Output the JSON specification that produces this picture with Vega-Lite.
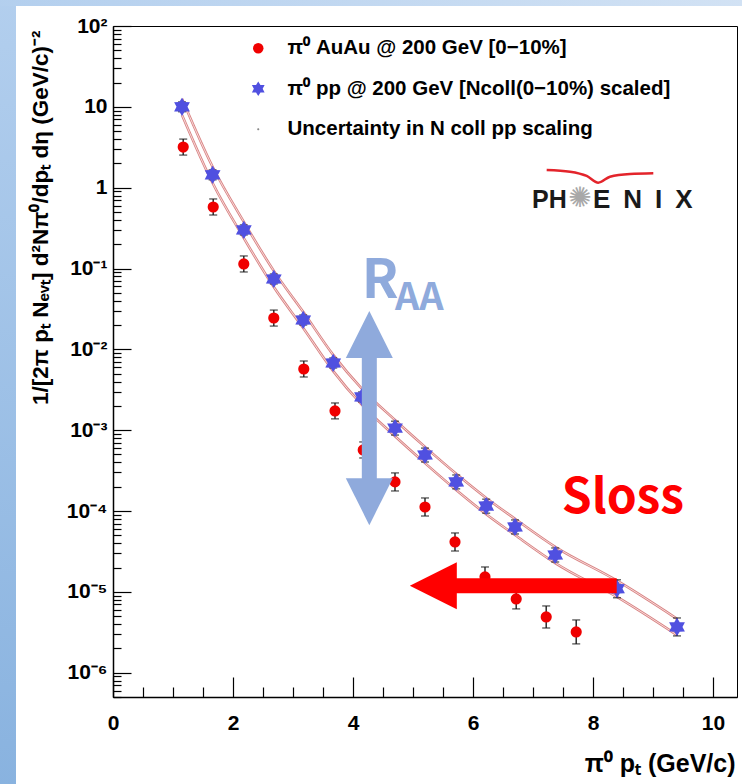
{
  "$schema": "https://vega.github.io/schema/vega-lite/v6.json",
  "width": 624,
  "height": 671,
  "autosize": {"type": "none"},
  "padding": {"left": 113, "top": 26, "right": 5, "bottom": 87},
  "background": "white",
  "config": {"view": {"stroke": "black", "strokeWidth": 1}, "font": "Liberation Sans"},
  "resolve": {"axis": {"x": "independent", "y": "independent"}},
  "datasets": {
    "spectra": [
      {"series": "π⁰ AuAu @ 200 GeV [0−10%]", "pT": 1.17, "value": 3.18, "lo": 2.53, "hi": 3.99},
      {"series": "π⁰ AuAu @ 200 GeV [0−10%]", "pT": 1.67, "value": 0.577, "lo": 0.459, "hi": 0.725},
      {"series": "π⁰ AuAu @ 200 GeV [0−10%]", "pT": 2.18, "value": 0.1138, "lo": 0.0906, "hi": 0.143},
      {"series": "π⁰ AuAu @ 200 GeV [0−10%]", "pT": 2.68, "value": 0.0244, "lo": 0.0194, "hi": 0.0306},
      {"series": "π⁰ AuAu @ 200 GeV [0−10%]", "pT": 3.18, "value": 0.00571, "lo": 0.00455, "hi": 0.00717},
      {"series": "π⁰ AuAu @ 200 GeV [0−10%]", "pT": 3.70, "value": 0.00173, "lo": 0.00138, "hi": 0.00217},
      {"series": "π⁰ AuAu @ 200 GeV [0−10%]", "pT": 4.17, "value": 0.000569, "lo": 0.000453, "hi": 0.000715},
      {"series": "π⁰ AuAu @ 200 GeV [0−10%]", "pT": 4.70, "value": 0.000229, "lo": 0.000177, "hi": 0.000296},
      {"series": "π⁰ AuAu @ 200 GeV [0−10%]", "pT": 5.20, "value": 0.000112, "lo": 0.0000867, "hi": 0.000145},
      {"series": "π⁰ AuAu @ 200 GeV [0−10%]", "pT": 5.70, "value": 0.0000414, "lo": 0.000032, "hi": 0.0000535},
      {"series": "π⁰ AuAu @ 200 GeV [0−10%]", "pT": 6.20, "value": 0.0000153, "lo": 0.0000115, "hi": 0.0000203},
      {"series": "π⁰ AuAu @ 200 GeV [0−10%]", "pT": 6.72, "value": 0.00000817, "lo": 0.00000615, "hi": 0.00001086},
      {"series": "π⁰ AuAu @ 200 GeV [0−10%]", "pT": 7.22, "value": 0.00000489, "lo": 0.00000357, "hi": 0.00000669},
      {"series": "π⁰ AuAu @ 200 GeV [0−10%]", "pT": 7.72, "value": 0.00000319, "lo": 0.00000227, "hi": 0.00000449},
      {"series": "π⁰ pp @ 200 GeV [Ncoll(0−10%) scaled]", "pT": 1.15, "value": 10.0, "lo": 8.7, "hi": 11.5},
      {"series": "π⁰ pp @ 200 GeV [Ncoll(0−10%) scaled]", "pT": 1.66, "value": 1.44, "lo": 1.25, "hi": 1.66},
      {"series": "π⁰ pp @ 200 GeV [Ncoll(0−10%) scaled]", "pT": 2.18, "value": 0.30, "lo": 0.26, "hi": 0.346},
      {"series": "π⁰ pp @ 200 GeV [Ncoll(0−10%) scaled]", "pT": 2.68, "value": 0.0742, "lo": 0.0644, "hi": 0.0855},
      {"series": "π⁰ pp @ 200 GeV [Ncoll(0−10%) scaled]", "pT": 3.17, "value": 0.0231, "lo": 0.020, "hi": 0.0266},
      {"series": "π⁰ pp @ 200 GeV [Ncoll(0−10%) scaled]", "pT": 3.67, "value": 0.00678, "lo": 0.00588, "hi": 0.00782},
      {"series": "π⁰ pp @ 200 GeV [Ncoll(0−10%) scaled]", "pT": 4.15, "value": 0.00258, "lo": 0.00224, "hi": 0.00297},
      {"series": "π⁰ pp @ 200 GeV [Ncoll(0−10%) scaled]", "pT": 4.70, "value": 0.00106, "lo": 0.00087, "hi": 0.00129},
      {"series": "π⁰ pp @ 200 GeV [Ncoll(0−10%) scaled]", "pT": 5.20, "value": 0.000493, "lo": 0.000404, "hi": 0.0006},
      {"series": "π⁰ pp @ 200 GeV [Ncoll(0−10%) scaled]", "pT": 5.72, "value": 0.000229, "lo": 0.000188, "hi": 0.000279},
      {"series": "π⁰ pp @ 200 GeV [Ncoll(0−10%) scaled]", "pT": 6.22, "value": 0.000115, "lo": 0.000094, "hi": 0.00014},
      {"series": "π⁰ pp @ 200 GeV [Ncoll(0−10%) scaled]", "pT": 6.70, "value": 0.0000635, "lo": 0.000052, "hi": 0.0000775},
      {"series": "π⁰ pp @ 200 GeV [Ncoll(0−10%) scaled]", "pT": 7.37, "value": 0.0000286, "lo": 0.0000234, "hi": 0.0000349},
      {"series": "π⁰ pp @ 200 GeV [Ncoll(0−10%) scaled]", "pT": 8.40, "value": 0.0000109, "lo": 0.00000845, "hi": 0.0000141},
      {"series": "π⁰ pp @ 200 GeV [Ncoll(0−10%) scaled]", "pT": 9.40, "value": 0.00000368, "lo": 0.00000285, "hi": 0.00000475}
    ],
    "band": [
      {"pT": 1.15, "upper": 12.6, "lower": 7.94},
      {"pT": 1.66, "upper": 1.814, "lower": 1.143},
      {"pT": 2.18, "upper": 0.378, "lower": 0.238},
      {"pT": 2.68, "upper": 0.0935, "lower": 0.0589},
      {"pT": 3.17, "upper": 0.0291, "lower": 0.01833},
      {"pT": 3.67, "upper": 0.00854, "lower": 0.00538},
      {"pT": 4.15, "upper": 0.00325, "lower": 0.00205},
      {"pT": 4.70, "upper": 0.001336, "lower": 0.000841},
      {"pT": 5.20, "upper": 0.000621, "lower": 0.000391},
      {"pT": 5.72, "upper": 0.0002885, "lower": 0.0001817},
      {"pT": 6.22, "upper": 0.0001449, "lower": 0.0000913},
      {"pT": 6.70, "upper": 0.00008, "lower": 0.0000504},
      {"pT": 7.37, "upper": 0.000036, "lower": 0.0000227},
      {"pT": 8.40, "upper": 0.00001373, "lower": 0.00000865},
      {"pT": 9.40, "upper": 0.00000464, "lower": 0.00000292}
    ],
    "arc": [
      {"x": 7.228, "y": 1.655},
      {"x": 7.617, "y": 1.576},
      {"x": 7.895, "y": 1.395},
      {"x": 8.088, "y": 1.152},
      {"x": 8.283, "y": 1.367},
      {"x": 8.617, "y": 1.477},
      {"x": 9.005, "y": 1.506}
    ]
  },
  "layer": [
    {
      "data": {"values": [{}]},
      "mark": {"type": "rect", "color": {"gradient": "linear", "x1": 0, "y1": 0, "x2": 0, "y2": 1, "stops": [{"offset": 0, "color": "#b3cfee"}, {"offset": 1, "color": "#88b2df"}]}},
      "encoding": {
        "x": {"datum": -2.05, "axis": null, "scale": {"domain": [0, 10.4], "nice": false, "zero": false}},
        "x2": {"datum": -1.6167},
        "y": {"datum": 278.7, "axis": null, "scale": {"type": "log", "domain": [5e-7, 100], "nice": false}},
        "y2": {"datum": 2.67e-8}
      }
    },
    {
      "data": {"values": [{}]},
      "mark": {"type": "rect", "color": {"gradient": "linear", "x1": 0, "y1": 0, "x2": 1, "y2": 0, "stops": [{"offset": 0, "color": "#b3cfee"}, {"offset": 1, "color": "#d2e2f4"}]}},
      "encoding": {
        "x": {"datum": -2.05, "axis": null, "scale": {"domain": [0, 10.4], "nice": false, "zero": false}},
        "x2": {"datum": 10.6},
        "y": {"datum": 278.7, "axis": null, "scale": {"type": "log", "domain": [5e-7, 100], "nice": false}},
        "y2": {"datum": 176.8}
      }
    },
    {
      "data": {"name": "band"},
      "mark": {"type": "line", "color": "#d98484", "strokeWidth": 2.6, "interpolate": "monotone"},
      "encoding": {
        "x": {
          "field": "pT", "type": "quantitative", "scale": {"domain": [0, 10.4], "nice": false, "zero": false},
          "axis": {"orient": "bottom", "values": [0.5, 1, 1.5, 2.5, 3, 3.5, 4.5, 5, 5.5, 6.5, 7, 7.5, 8.5, 9, 9.5], "tickSize": -10, "labels": false, "domain": false, "title": null, "grid": false, "tickColor": "black", "tickWidth": 1.2, "zindex": 1}
        },
        "y": {
          "field": "upper", "type": "quantitative", "scale": {"type": "log", "domain": [5e-7, 100], "nice": false},
          "axis": {"orient": "left", "values": [5e-7, 6e-7, 7e-7, 8e-7, 9e-7, 2e-6, 3e-6, 4e-6, 5e-6, 6e-6, 7e-6, 8e-6, 9e-6, 2e-5, 3e-5, 4e-5, 5e-5, 6e-5, 7e-5, 8e-5, 9e-5, 2e-4, 3e-4, 4e-4, 5e-4, 6e-4, 7e-4, 8e-4, 9e-4, 2e-3, 3e-3, 4e-3, 5e-3, 6e-3, 7e-3, 8e-3, 9e-3, 2e-2, 3e-2, 4e-2, 5e-2, 6e-2, 7e-2, 8e-2, 9e-2, 0.2, 0.3, 0.4, 0.5, 0.6, 0.7, 0.8, 0.9, 2, 3, 4, 5, 6, 7, 8, 9, 20, 30, 40, 50, 60, 70, 80, 90], "tickSize": -8, "labels": false, "domain": false, "title": null, "grid": false, "tickColor": "black", "tickWidth": 1.2, "zindex": 1}
        }
      }
    },
    {
      "data": {"name": "band"},
      "mark": {"type": "line", "color": "#f7dada", "strokeWidth": 1, "interpolate": "monotone"},
      "encoding": {
        "x": {"field": "pT", "type": "quantitative", "axis": null, "scale": {"domain": [0, 10.4], "nice": false, "zero": false}},
        "y": {"field": "upper", "type": "quantitative", "axis": null, "scale": {"type": "log", "domain": [5e-7, 100], "nice": false}}
      }
    },
    {
      "data": {"name": "band"},
      "mark": {"type": "line", "color": "#d98484", "strokeWidth": 2.6, "interpolate": "monotone"},
      "encoding": {
        "x": {"field": "pT", "type": "quantitative", "axis": null, "scale": {"domain": [0, 10.4], "nice": false, "zero": false}},
        "y": {"field": "lower", "type": "quantitative", "axis": null, "scale": {"type": "log", "domain": [5e-7, 100], "nice": false}}
      }
    },
    {
      "data": {"name": "band"},
      "mark": {"type": "line", "color": "#f7dada", "strokeWidth": 1, "interpolate": "monotone"},
      "encoding": {
        "x": {"field": "pT", "type": "quantitative", "axis": null, "scale": {"domain": [0, 10.4], "nice": false, "zero": false}},
        "y": {"field": "lower", "type": "quantitative", "axis": null, "scale": {"type": "log", "domain": [5e-7, 100], "nice": false}}
      }
    },
    {
      "data": {"name": "spectra"},
      "mark": {"type": "errorbar", "ticks": {"size": 8}, "thickness": 1.4, "color": "#1e1e1e"},
      "encoding": {
        "x": {"field": "pT", "type": "quantitative", "axis": null, "scale": {"domain": [0, 10.4], "nice": false, "zero": false}},
        "y": {"field": "lo", "type": "quantitative", "axis": null, "scale": {"type": "log", "domain": [5e-7, 100], "nice": false}},
        "y2": {"field": "hi"}
      }
    },
    {
      "data": {"name": "spectra"},
      "mark": {"type": "point", "filled": true, "opacity": 1, "strokeWidth": 0},
      "encoding": {
        "x": {
          "field": "pT", "type": "quantitative",
          "scale": {"domain": [0, 10.4], "nice": false, "zero": false},
          "axis": {
            "orient": "bottom", "values": [0, 2, 4, 6, 8, 10], "tickSize": -20, "format": "d",
            "labelFont": "Liberation Sans", "labelFontSize": 21, "labelFontWeight": "bold", "labelColor": "black",
            "labelPadding": 35, "labelFlush": false, "labelOverlap": false, "labelBound": false,
            "tickColor": "black", "tickWidth": 1.2, "domainColor": "black", "domainWidth": 1.5, "grid": false,
            "title": "π⁰ pₜ (GeV/c)", "titleFont": "Liberation Sans", "titleFontSize": 25, "titleFontWeight": "bold", "titleColor": "black",
            "titleX": 622, "titleY": 66, "titleAlign": "right", "titleBaseline": "middle", "zindex": 1
          }
        },
        "y": {
          "field": "value", "type": "quantitative",
          "scale": {"type": "log", "domain": [5e-7, 100], "nice": false},
          "axis": {
            "orient": "left", "values": [1e-6, 1e-5, 1e-4, 1e-3, 1e-2, 0.1, 1, 10, 100], "tickSize": -18,
            "labelExpr": "round(log(datum.value)/LN10) == 2 ? '10²' : round(log(datum.value)/LN10) == 1 ? '10' : round(log(datum.value)/LN10) == 0 ? '1' : '10⁻' + ['', '¹', '²', '³', '⁴', '⁵', '⁶', '⁷'][-round(log(datum.value)/LN10)]",
            "labelFont": "Liberation Sans", "labelFontSize": 21, "labelFontWeight": "bold", "labelColor": "black",
            "labelPadding": 24, "labelFlush": false, "labelOverlap": false, "labelBound": false,
            "tickColor": "black", "tickWidth": 1.2, "domainColor": "black", "domainWidth": 1.5, "grid": false,
            "title": "1/[2π pₜ Nₑᵥₜ] d²Nπ⁰/dpₜ dη (GeV/c)⁻²", "titleFont": "Liberation Sans", "titleFontSize": 22.5, "titleFontWeight": "bold", "titleColor": "black",
            "titleX": -73, "titleY": 4, "titleAngle": 270, "titleAlign": "right", "titleBaseline": "middle", "zindex": 1
          }
        },
        "color": {
          "field": "series", "type": "nominal",
          "scale": {"domain": ["π⁰ AuAu @ 200 GeV [0−10%]", "π⁰ pp @ 200 GeV [Ncoll(0−10%) scaled]", "Uncertainty in N coll pp scaling"], "range": ["#f00000", "#5050e0", "#888888"]},
          "legend": {
            "orient": "none", "legendX": 135, "legendY": 12, "title": null, "padding": 0,
            "labelFont": "Liberation Sans", "labelFontSize": 20.5, "labelFontWeight": "bold", "labelColor": "black",
            "labelLimit": 700, "labelOffset": 19, "rowPadding": 19.5, "symbolStrokeWidth": 0, "symbolSize": 110
          }
        },
        "shape": {
          "field": "series", "type": "nominal",
          "scale": {"domain": ["π⁰ AuAu @ 200 GeV [0−10%]", "π⁰ pp @ 200 GeV [Ncoll(0−10%) scaled]", "Uncertainty in N coll pp scaling"], "range": ["circle", "M0,-1.4L0.42,-0.728L1.212,-0.7L0.84,0L1.212,0.7L0.42,0.728L0,1.4L-0.42,0.728L-1.212,0.7L-0.84,0L-1.212,-0.7L-0.42,-0.728Z", "M-0.2,0A0.2,0.2 0 1,0 0.2,0A0.2,0.2 0 1,0 -0.2,0Z"]}
        },
        "size": {"condition": {"test": "indexof(datum.series, 'Ncoll(') >= 0", "value": 170}, "value": 125}
      }
    },
    {
      "data": {"name": "arc"},
      "mark": {"type": "line", "color": "#e3242b", "strokeWidth": 2.5, "interpolate": "monotone"},
      "encoding": {
        "x": {"field": "x", "type": "quantitative", "axis": null, "scale": {"domain": [0, 10.4], "nice": false, "zero": false}},
        "y": {"field": "y", "type": "quantitative", "axis": null, "scale": {"type": "log", "domain": [5e-7, 100], "nice": false}}
      }
    },
    {
      "data": {"values": [{}]},
      "mark": {"type": "text", "text": "PH", "font": "Liberation Sans", "fontSize": 25, "fontWeight": "bold", "color": "#1a1a1a", "align": "left", "baseline": "alphabetic"},
      "encoding": {
        "x": {"datum": 6.983, "axis": null, "scale": {"domain": [0, 10.4], "nice": false, "zero": false}},
        "y": {"datum": 0.5608, "axis": null, "scale": {"type": "log", "domain": [5e-7, 100], "nice": false}}
      }
    },
    {
      "data": {"values": [{}]},
      "mark": {"type": "text", "text": "✺", "font": "DejaVu Sans", "fontSize": 28, "color": "#a8a8a8", "align": "center", "baseline": "middle"},
      "encoding": {
        "x": {"datum": 7.783, "axis": null, "scale": {"domain": [0, 10.4], "nice": false, "zero": false}},
        "y": {"datum": 0.7244, "axis": null, "scale": {"type": "log", "domain": [5e-7, 100], "nice": false}}
      }
    },
    {
      "data": {"values": [{}]},
      "mark": {"type": "text", "text": "E\u2002N\u2002I\u2002X", "font": "Liberation Sans", "fontSize": 26, "fontWeight": "bold", "color": "#1a1a1a", "align": "left", "baseline": "alphabetic"},
      "encoding": {
        "x": {"datum": 8.0, "axis": null, "scale": {"domain": [0, 10.4], "nice": false, "zero": false}},
        "y": {"datum": 0.5608, "axis": null, "scale": {"type": "log", "domain": [5e-7, 100], "nice": false}}
      }
    },
    {
      "data": {"values": [{}]},
      "mark": {"type": "rule", "color": "#8FAADC", "strokeWidth": 15, "strokeCap": "butt"},
      "encoding": {
        "x": {"datum": 4.272, "axis": null, "scale": {"domain": [0, 10.4], "nice": false, "zero": false}},
        "y": {"datum": 0.00982, "axis": null, "scale": {"type": "log", "domain": [5e-7, 100], "nice": false}},
        "y2": {"datum": 0.00021}
      }
    },
    {
      "data": {"values": [{}]},
      "mark": {"type": "point", "shape": "M0,-1L1,1L-1,1Z", "size": 2209, "filled": true, "opacity": 1, "strokeWidth": 0, "color": "#8FAADC"},
      "encoding": {
        "x": {"datum": 4.272, "axis": null, "scale": {"domain": [0, 10.4], "nice": false, "zero": false}},
        "y": {"datum": 0.01527, "axis": null, "scale": {"type": "log", "domain": [5e-7, 100], "nice": false}}
      }
    },
    {
      "data": {"values": [{}]},
      "mark": {"type": "point", "shape": "M0,1L1,-1L-1,-1Z", "size": 2209, "filled": true, "opacity": 1, "strokeWidth": 0, "color": "#8FAADC"},
      "encoding": {
        "x": {"datum": 4.272, "axis": null, "scale": {"domain": [0, 10.4], "nice": false, "zero": false}},
        "y": {"datum": 0.0001305, "axis": null, "scale": {"type": "log", "domain": [5e-7, 100], "nice": false}}
      }
    },
    {
      "data": {"values": [{}]},
      "mark": {"type": "rule", "color": "#ff0000", "strokeWidth": 15, "strokeCap": "butt"},
      "encoding": {
        "x": {"datum": 5.533, "axis": null, "scale": {"domain": [0, 10.4], "nice": false, "zero": false}},
        "x2": {"datum": 8.395},
        "y": {"datum": 0.0000119, "axis": null, "scale": {"type": "log", "domain": [5e-7, 100], "nice": false}}
      }
    },
    {
      "data": {"values": [{}]},
      "mark": {"type": "point", "shape": "M-1,0L1,-1L1,1Z", "size": 2209, "filled": true, "opacity": 1, "strokeWidth": 0, "color": "#ff0000"},
      "encoding": {
        "x": {"datum": 5.339, "axis": null, "scale": {"domain": [0, 10.4], "nice": false, "zero": false}},
        "y": {"datum": 0.0000119, "axis": null, "scale": {"type": "log", "domain": [5e-7, 100], "nice": false}}
      }
    },
    {
      "data": {"values": [{}]},
      "mark": {"type": "text", "text": "R", "font": "Noto Sans CJK JP", "fontSize": 54, "fontWeight": "bold", "color": "#8FAADC", "align": "left", "baseline": "alphabetic"},
      "encoding": {
        "x": {"datum": 4.145, "axis": null, "scale": {"domain": [0, 10.4], "nice": false, "zero": false}},
        "y": {"datum": 0.0428, "axis": null, "scale": {"type": "log", "domain": [5e-7, 100], "nice": false}}
      }
    },
    {
      "data": {"values": [{}]},
      "mark": {"type": "text", "text": "AA", "font": "Noto Sans CJK JP", "fontSize": 38, "fontWeight": "bold", "color": "#8FAADC", "align": "left", "baseline": "alphabetic"},
      "encoding": {
        "x": {"datum": 4.70, "axis": null, "scale": {"domain": [0, 10.4], "nice": false, "zero": false}},
        "y": {"datum": 0.0307, "axis": null, "scale": {"type": "log", "domain": [5e-7, 100], "nice": false}}
      }
    },
    {
      "data": {"values": [{}]},
      "mark": {"type": "text", "text": "Sloss", "font": "Noto Sans CJK JP", "fontSize": 48, "fontWeight": "bold", "color": "#ff0000", "align": "left", "baseline": "alphabetic"},
      "encoding": {
        "x": {"datum": 7.478, "axis": null, "scale": {"domain": [0, 10.4], "nice": false, "zero": false}},
        "y": {"datum": 0.0000937, "axis": null, "scale": {"type": "log", "domain": [5e-7, 100], "nice": false}}
      }
    }
  ]
}
